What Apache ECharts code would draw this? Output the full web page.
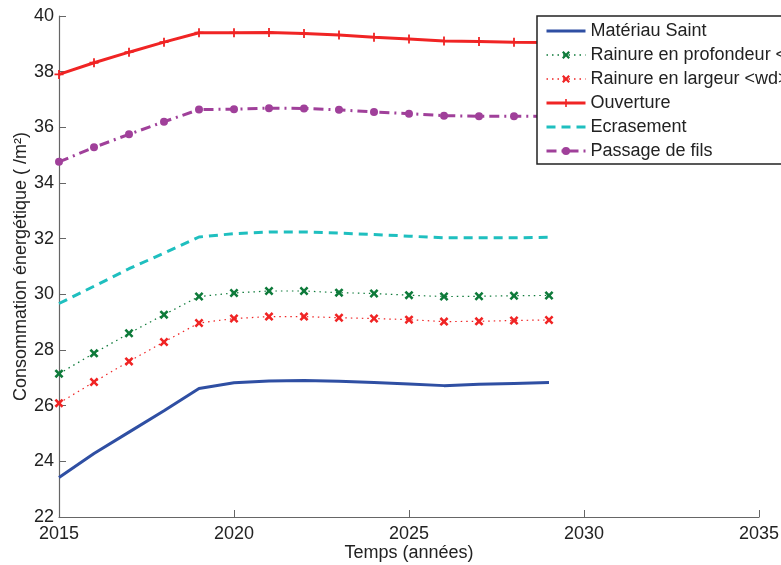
<!DOCTYPE html>
<html>
<head>
<meta charset="utf-8">
<script src="https://cdn.jsdelivr.net/npm/echarts@6/dist/echarts.min.js"></script>
<style>
html,body{margin:0;padding:0;background:#fff;}
#c{width:781px;height:565px;}
</style>
</head>
<body>
<div id="c"></div>
<script>
const years = [2015,2016,2017,2018,2019,2020,2021,2022,2023,2024,2025,2026,2027,2028,2029];
const materiauSaint = [23.42,24.28,25.05,25.82,26.62,26.82,26.89,26.90,26.88,26.83,26.78,26.72,26.77,26.80,26.83];
const rainureProfondeur = [27.15,27.88,28.60,29.27,29.92,30.05,30.12,30.12,30.06,30.03,29.97,29.92,29.93,29.95,29.96];
const rainureLargeur = [26.09,26.85,27.59,28.29,28.97,29.13,29.20,29.20,29.16,29.13,29.09,29.02,29.03,29.06,29.08];
const ouverture = [37.90,38.32,38.70,39.06,39.40,39.40,39.41,39.37,39.32,39.24,39.17,39.10,39.08,39.06,39.05];
const ecrasement = [29.67,30.29,30.92,31.48,32.06,32.18,32.24,32.24,32.20,32.15,32.09,32.03,32.03,32.03,32.05];
const passageFils = [34.76,35.28,35.75,36.20,36.64,36.65,36.69,36.68,36.63,36.55,36.49,36.42,36.40,36.40,36.39];
const seriesNames = ['Matériau Saint','Rainure en profondeur <wd>','Rainure en largeur <wd>','Ouverture','Ecrasement','Passage de fils'];
const xTicks = {min:2015,max:2035,interval:5};
const yTicks = {min:22,max:40,interval:2};

const font = 'Liberation Sans, Arial, Helvetica, sans-serif';
const xSym = 'path://M0,2L2,0L5,3L8,0L10,2L7,5L10,8L8,10L5,7L2,10L0,8L3,5Z';
const plusSym = 'path://M4,0H6V4H10V6H6V10H4V6H0V4H4Z';

function pairs(v){ return years.map((y,i)=>[y,v[i]]); }
const legendWidths = [3,1.5,1.5,3,3,3];

const chart = echarts.init(document.getElementById('c'), null, {renderer:'canvas'});
chart.setOption({
  animation:false,
  backgroundColor:'#fff',
  textStyle:{fontFamily:font},
  grid:{left:59,right:22,top:16,bottom:48,containLabel:false,outerBoundsMode:'none'},
  legend:{
    orient:'vertical', left:537, top:16,
    backgroundColor:'#fff', borderColor:'#222', borderWidth:1.5, borderRadius:0,
    padding:[6,10,4,8], itemWidth:39, itemHeight:10, itemGap:6,
    textStyle:{fontSize:18, color:'#222', fontFamily:font, lineHeight:18},
    data:seriesNames.map((n,i)=>({name:n,lineStyle:{width:legendWidths[i]}}))
  },
  xAxis:{
    type:'value', min:xTicks.min, max:xTicks.max, interval:xTicks.interval,
    name:'Temps (années)', nameLocation:'middle', nameGap:27, nameMoveOverlap:false,
    nameTextStyle:{fontSize:18,color:'#222',fontFamily:font},
    axisLine:{lineStyle:{color:'#666',width:1.2}},
    axisTick:{inside:true,length:7,lineStyle:{color:'#666'}},
    axisLabel:{fontSize:18,color:'#222',margin:8,fontFamily:font,formatter:v=>String(v)},
    splitLine:{show:false}
  },
  yAxis:{
    type:'value', min:yTicks.min, max:yTicks.max, interval:yTicks.interval,
    name:'Consommation énergétique ( /m²)', nameLocation:'middle', nameGap:29, nameMoveOverlap:false,
    nameTextStyle:{fontSize:18,color:'#222',fontFamily:font},
    axisLine:{show:true,lineStyle:{color:'#666',width:1.2}},
    axisTick:{show:true,inside:true,length:7,lineStyle:{color:'#666'}},
    axisLabel:{fontSize:18,color:'#222',margin:5,fontFamily:font},
    splitLine:{show:false}
  },
  series:[
    {name:seriesNames[0],type:'line',data:pairs(materiauSaint),showSymbol:false,symbol:'circle',
     lineStyle:{color:'#2f4fa3',width:3},itemStyle:{color:'#2f4fa3',opacity:0}},
    {name:seriesNames[1],type:'line',data:pairs(rainureProfondeur),symbol:xSym,symbolSize:9,
     lineStyle:{color:'#0e7a3a',width:1.2,type:[1.5,4]},itemStyle:{color:'#0e7a3a'}},
    {name:seriesNames[2],type:'line',data:pairs(rainureLargeur),symbol:xSym,symbolSize:9,
     lineStyle:{color:'#f02424',width:1.2,type:[1.5,4]},itemStyle:{color:'#f02424'}},
    {name:seriesNames[3],type:'line',data:pairs(ouverture),symbol:plusSym,symbolSize:9,
     lineStyle:{color:'#f02424',width:3},itemStyle:{color:'#f02424'}},
    {name:seriesNames[4],type:'line',data:pairs(ecrasement),showSymbol:false,symbol:'circle',
     lineStyle:{color:'#1fbfbf',width:3,type:[9,6]},itemStyle:{color:'#1fbfbf',opacity:0}},
    {name:seriesNames[5],type:'line',data:pairs(passageFils),symbol:'circle',symbolSize:8,
     lineStyle:{color:'#a0409a',width:3,type:[10,5,2,5]},itemStyle:{color:'#a0409a'}}
  ]
});
</script>
</body>
</html>
